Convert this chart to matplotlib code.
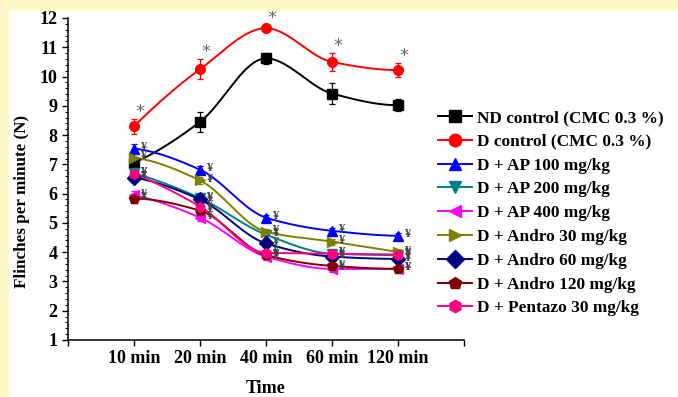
import numpy as np
import matplotlib
matplotlib.use('Agg')
import matplotlib.pyplot as plt
from matplotlib.patches import Rectangle
from matplotlib.ticker import MultipleLocator

plt.rcParams['font.family'] = ['Liberation Serif', 'DejaVu Serif']
plt.rcParams['font.weight'] = 'bold'

# Data
time_labels = ['10 min', '20 min', '40 min', '60 min', '120 min']

nd_control = [7.05, 8.45, 10.62, 9.42, 9.02]
nd_control_err = [0.15, 0.35, 0.2, 0.35, 0.2]
d_control = [8.3, 10.25, 11.65, 10.5, 10.22]
d_control_err = [0.25, 0.35, 0.12, 0.3, 0.25]
ap_100 = [7.54, 6.82, 5.18, 4.73, 4.56]
ap_200 = [6.7, 5.85, 4.6, 3.95, 3.9]
ap_400 = [5.95, 5.18, 3.85, 3.43, 3.43]
andro_30 = [7.23, 6.45, 4.7, 4.36, 4.01]
andro_60 = [6.55, 5.8, 4.3, 3.85, 3.77]
andro_120 = [5.83, 5.42, 3.9, 3.53, 3.43]
pentazo_30 = [6.68, 5.56, 3.98, 3.95, 3.92]
treat_err = [0.15, 0.12, 0.1, 0.1, 0.1]

series = [
    ('ND control (CMC 0.3 %)', nd_control, nd_control_err, 'black', 's'),
    ('D control (CMC 0.3 %)', d_control, d_control_err, 'red', 'o'),
    ('D + AP 100 mg/kg', ap_100, treat_err, 'blue', '^'),
    ('D + AP 200 mg/kg', ap_200, treat_err, '#008080', 'v'),
    ('D + AP 400 mg/kg', ap_400, treat_err, 'magenta', '<'),
    ('D + Andro 30 mg/kg', andro_30, treat_err, '#808000', '>'),
    ('D + Andro 60 mg/kg', andro_60, treat_err, '#000080', 'D'),
    ('D + Andro 120 mg/kg', andro_120, treat_err, '#800000', 'p'),
    ('D + Pentazo 30 mg/kg', pentazo_30, treat_err, '#FF0080', 'h'),
]


def pchip(x, y, xs):
    x = np.asarray(x, float)
    y = np.asarray(y, float)
    h = np.diff(x)
    d = np.diff(y) / h
    n = len(x)
    m = np.zeros(n)
    for k in range(1, n - 1):
        if d[k - 1] * d[k] > 0:
            w1 = 2 * h[k] + h[k - 1]
            w2 = h[k] + 2 * h[k - 1]
            m[k] = (w1 + w2) / (w1 / d[k - 1] + w2 / d[k])
    # end slopes
    for k, (h0, h1, d0, d1) in [(0, (h[0], h[1], d[0], d[1])),
                                (n - 1, (h[-1], h[-2], d[-1], d[-2]))]:
        s = ((2 * h0 + h1) * d0 - h0 * d1) / (h0 + h1)
        if np.sign(s) != np.sign(d0):
            s = 0
        elif np.sign(d0) != np.sign(d1) and abs(s) > abs(3 * d0):
            s = 3 * d0
        m[k] = s
    idx = np.clip(np.searchsorted(x, xs) - 1, 0, n - 2)
    t = (xs - x[idx]) / h[idx]
    h00 = 2 * t**3 - 3 * t**2 + 1
    h10 = t**3 - 2 * t**2 + t
    h01 = -2 * t**3 + 3 * t**2
    h11 = t**3 - t**2
    return (h00 * y[idx] + h10 * h[idx] * m[idx]
            + h01 * y[idx + 1] + h11 * h[idx] * m[idx + 1])


fig = plt.figure(figsize=(6.78, 3.97), dpi=100)
fig.patches.append(Rectangle((0, 1 - 10 / 397), 1, 10 / 397, transform=fig.transFigure,
                             color='#FFF9C9', zorder=0))
fig.patches.append(Rectangle((0, 0), 8 / 678, 1, transform=fig.transFigure,
                             color='#FFF9C9', zorder=0))
ax = fig.add_axes([68 / 678, 1 - 340 / 397, 396 / 678, 322 / 397])

xpos = np.arange(1, len(time_labels) + 1)
xs = np.linspace(1, 5, 200)

for label, vals, err, color, marker in series:
    ax.plot(xs, pchip(xpos, vals, xs), color=color, lw=1.4, zorder=2)
    ax.errorbar(xpos, vals, yerr=err, fmt='none', ecolor=color, elinewidth=0.9,
                capsize=2.5, capthick=0.9, zorder=3)
    ax.plot(xpos, vals, ls='none', marker=marker, color=color, ms=7, zorder=4)
    ax.plot([], [], color=color, marker=marker, ms=9, lw=1.4, label=label)

# significance marks
for xi, v, e in zip(xpos, d_control, d_control_err):
    ax.annotate('*', (xi, v + e), xytext=(4, 5), textcoords='offset points',
                color='#666666', fontsize=13, ha='center', va='center',
                fontfamily='DejaVu Sans', fontweight='normal', annotation_clip=False)
for label, vals, err, color, marker in series[2:]:
    for xi, v in zip(xpos, vals):
        ax.annotate('¥', (xi, v), xytext=(4, 1), textcoords='offset points',
                    color='#444444', fontsize=9, ha='left', va='center')

ax.set_xlim(0, 6)
ax.set_ylim(1, 12)
ax.set_xticks(range(0, 7))
ax.set_xticklabels([''] + time_labels + [''])
ax.yaxis.set_major_locator(MultipleLocator(1))
ax.yaxis.set_minor_locator(MultipleLocator(0.2))
ax.tick_params(axis='both', which='major', direction='out', length=4, width=1,
               labelsize=13)
ax.tick_params(axis='y', which='minor', direction='out', length=2, width=0.8)
for s in ['top', 'right']:
    ax.spines[s].set_visible(False)
for s in ['left', 'bottom']:
    ax.spines[s].set_linewidth(1.1)

ax.set_xlabel('Time', fontsize=13, fontweight='bold', labelpad=9)
ax.set_ylabel('Flinches per minute (N)', fontsize=12.3, fontweight='bold')
ax.yaxis.set_label_coords(-0.097, 0.43)

fig.legend(loc='upper left', bbox_to_anchor=(438 / 678, 1 - 110 / 397), frameon=False,
           fontsize=12.4, handlelength=2.0, labelspacing=0.45, handletextpad=0.25,
           borderpad=0, borderaxespad=0)

fig.savefig('out.png', dpi=100, facecolor='white')
